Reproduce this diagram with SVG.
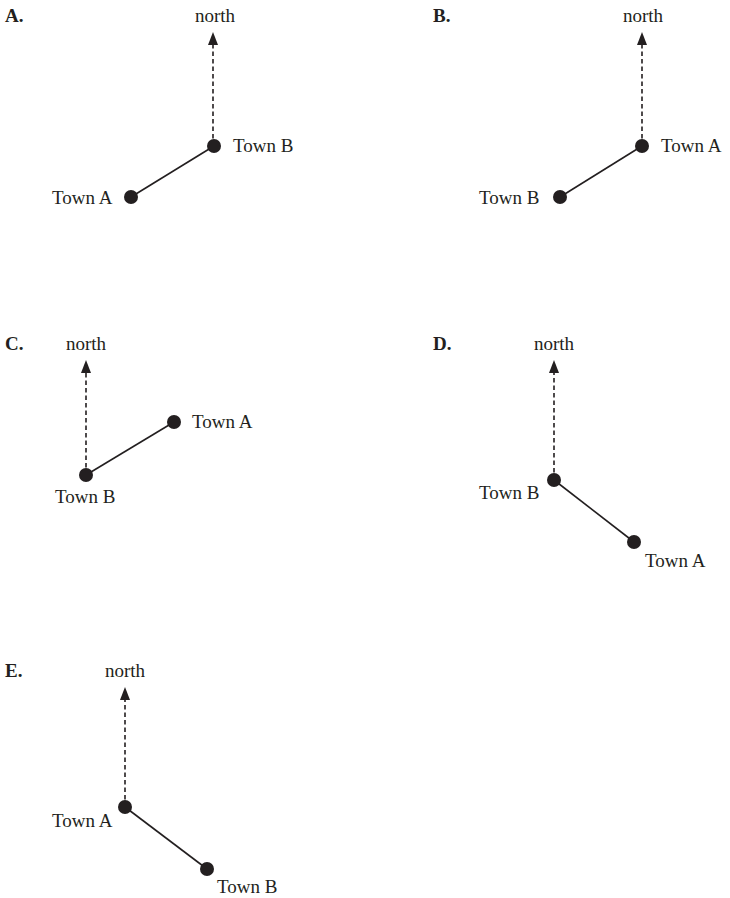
<svg xmlns="http://www.w3.org/2000/svg" width="730" height="898" viewBox="0 0 730 898">
<style>
text{font-family:"Liberation Serif",serif;font-size:19px;fill:#231f20}
.b{font-weight:bold}
.d{stroke:#231f20;stroke-width:1.6;stroke-dasharray:4.5,3;fill:none}
.s{stroke:#231f20;stroke-width:1.6;fill:none}
.p{fill:#231f20}
</style>
<defs><marker id="ah" markerWidth="12" markerHeight="12" refX="5" refY="0" viewBox="-6 -1 12 13" orient="auto-start-reverse" markerUnits="userSpaceOnUse"><path d="M-5,12 L0,0 L5,12 Z" fill="#231f20"/></marker></defs>
<g id="labels"><text class="b" x="5" y="22">A.</text><text class="b" x="433" y="22">B.</text><text class="b" x="5" y="350">C.</text><text class="b" x="433" y="350">D.</text><text class="b" x="5" y="677">E.</text></g>
<g id="connectors">
<path class="d" d="M213,146 V45"/><path class="p" d="M208,45 L213,32 L218,45 Z"/><path class="s" d="M214,146 L131,197"/>
<path class="d" d="M642,146 V45"/><path class="p" d="M637,45 L642,32 L647,45 Z"/><path class="s" d="M642,146 L560,197"/>
<path class="d" d="M86,475 V373"/><path class="p" d="M81,373 L86,360 L91,373 Z"/><path class="s" d="M86,475 L174,422"/>
<path class="d" d="M554,480 V373"/><path class="p" d="M549,373 L554,360 L559,373 Z"/><path class="s" d="M554,480 L634,542"/>
<path class="d" d="M125,807 V700"/><path class="p" d="M120,700 L125,687 L130,700 Z"/><path class="s" d="M125,807 L207,869"/>
</g>
<g id="A"><text x="215" y="22" text-anchor="middle">north</text><circle class="p" cx="214" cy="146" r="7"/><circle class="p" cx="131" cy="197" r="7"/><text x="233" y="152">Town B</text><text x="52" y="204">Town A</text></g>
<g id="B"><text x="643" y="22" text-anchor="middle">north</text><circle class="p" cx="642" cy="146" r="7"/><circle class="p" cx="560" cy="197" r="7"/><text x="661" y="152">Town A</text><text x="479" y="204">Town B</text></g>
<g id="C"><text x="86" y="350" text-anchor="middle">north</text><circle class="p" cx="86" cy="475" r="7"/><circle class="p" cx="174" cy="422" r="7"/><text x="192" y="428">Town A</text><text x="55" y="503">Town B</text></g>
<g id="D"><text x="554" y="350" text-anchor="middle">north</text><circle class="p" cx="554" cy="480" r="7"/><circle class="p" cx="634" cy="542" r="7"/><text x="479" y="499">Town B</text><text x="645" y="567">Town A</text></g>
<g id="E"><text x="125" y="677" text-anchor="middle">north</text><circle class="p" cx="125" cy="807" r="7"/><circle class="p" cx="207" cy="869" r="7"/><text x="52" y="827">Town A</text><text x="217" y="893">Town B</text></g>
</svg>
